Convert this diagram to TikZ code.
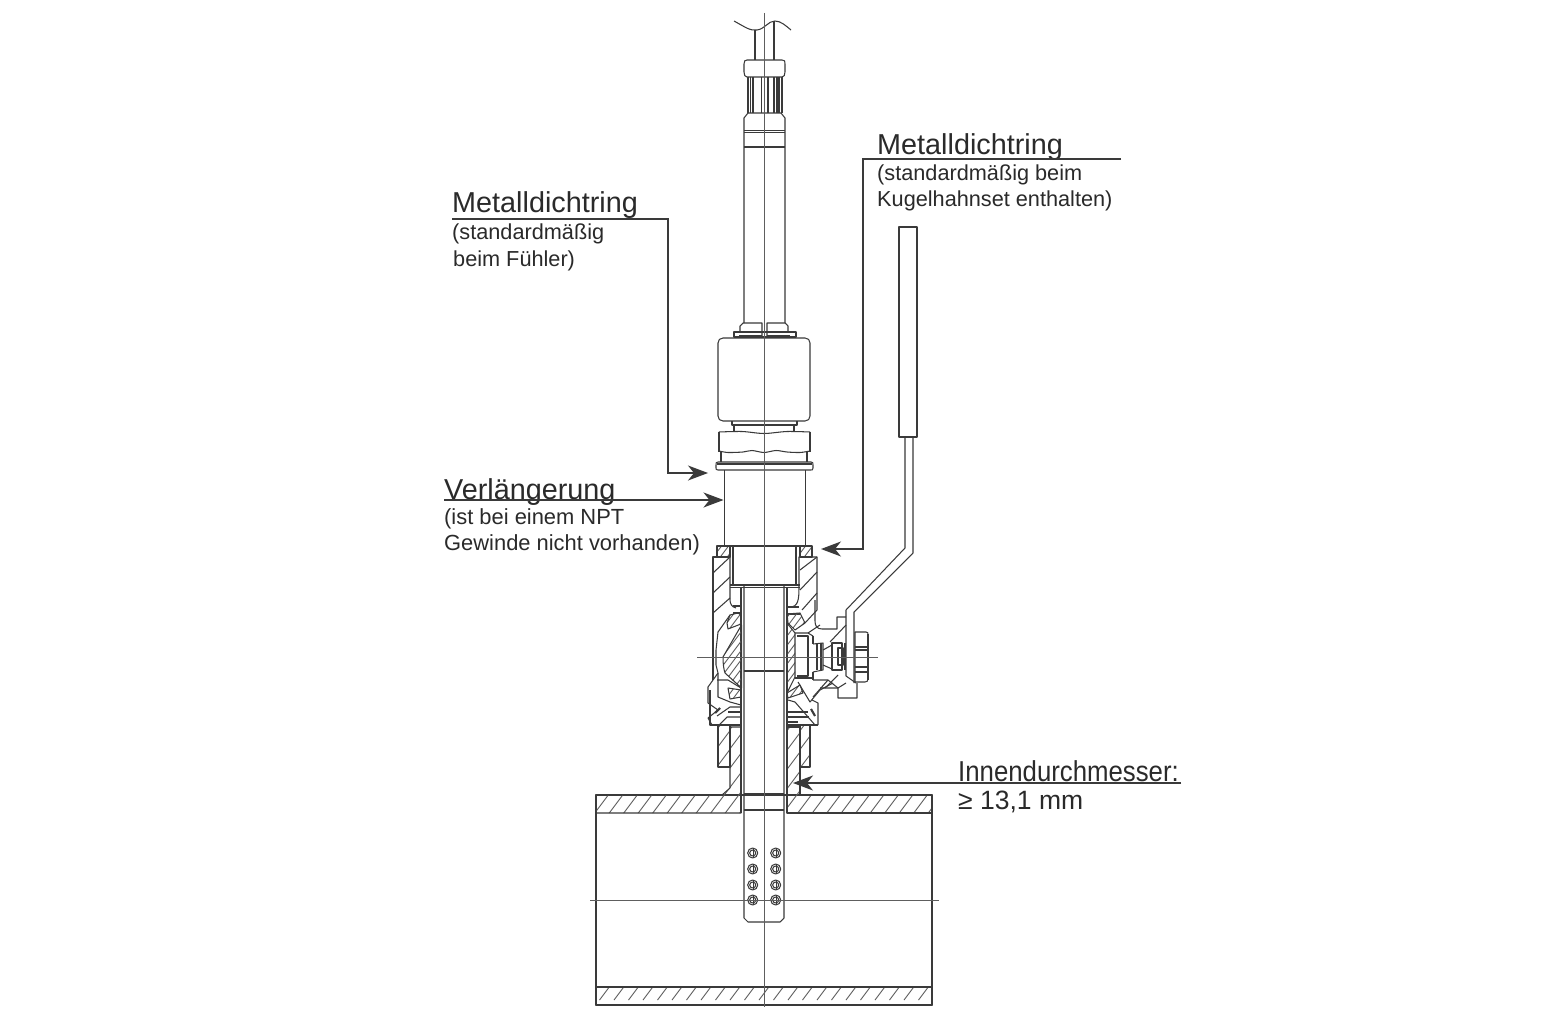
\documentclass[tikz,border=0pt]{standalone}
\usepackage{fontspec}
\setmainfont{Liberation Sans}
\usetikzlibrary{arrows.meta}
\definecolor{ink}{HTML}{3A3A3A}
\definecolor{txt}{HTML}{2A2A2A}
\definecolor{soft}{HTML}{5E5E5E}
\newcommand{\hatchin}[2][14.5]{%
  \begin{scope}\clip #2;
    \pgfmathsetmacro{\nxt}{900+#1}
    \foreach \k in {900,\nxt,...,1800} \draw[hl] (\k,0) -- (\k-750,1000);
  \end{scope}
  \draw[ln] #2;}
\tikzset{
  ln/.style={draw=ink,line width=1.05pt,line join=round},
  hl/.style={draw=soft,line width=.9pt},
  thick2/.style={draw=ink,line width=2.1pt},
  axis/.style={draw=soft,line width=1pt},
  big/.style={inner sep=0,anchor=base west,text=txt,font=\fontsize{28.8}{30}\selectfont},
  small/.style={inner sep=0,anchor=base west,text=txt,font=\fontsize{21.7}{24}\selectfont},
  leader/.style={draw=ink,line width=1.3pt,-{Stealth[length=20pt,width=15pt,inset=6pt]}}
}
\begin{document}
\begin{tikzpicture}[x=1pt,y=-1pt]
\useasboundingbox (0,0) rectangle (1560,1024);
\fill[white] (0,0) rectangle (1560,1024);

% ---- pipe and socket
\draw[ln] (596,795) rectangle (932,1005);
\hatchin{(596,795) -- (722,795) -- (730,788) -- (730,727) -- (741,727) -- (741,813) -- (596,813) -- cycle}
\hatchin{(787,727) -- (800,727) -- (800,795) -- (932,795) -- (932,813) -- (787,813) -- cycle}
\hatchin{(596,987) rectangle (932,1005)}
\draw[thick2] (730,728) -- (730,760);
\draw[thick2] (800,728) -- (800,762);

% ---- probe tip
\draw[ln] (744,585) -- (744,918) -- (748,922) -- (780,922) -- (784,918) -- (784,585);
\draw[ln] (744,671) -- (784,671);
\draw[ln] (744,794) -- (784,794);
\draw[thick2] (744,810) -- (784,810);
\foreach \y in {853,869,885,900} \foreach \x in {752.7,775.7} {
  \draw[ln] (\x,\y) circle (5);
  \draw[ln] (\x+.5,\y-5) -- (\x+.5,\y+5);
  \draw[ln] (\x,\y) circle (3);
}

% ---- sensor shaft
\draw[ln] (755,30) -- (755,60);
\draw[ln] (774,21) -- (774,60);
\draw[ln] (734,21) .. controls (745,27) and (750,31) .. (757,30) .. controls (765,29) and (768,21) .. (775,21) .. controls (781,21) and (786,26) .. (791,30);
\draw[ln] (747,60) -- (782,60) .. controls (785,60) and (785,61) .. (785,64) -- (785,72) .. controls (785,75) and (784,77) .. (782,77) -- (747,77) .. controls (745,77) and (744,75) .. (744,72) -- (744,64) .. controls (744,61) and (745,60) .. (747,60) -- cycle;
\foreach \x in {748,750.5,753,761.5,768,774,777,779,782} \draw[ln] (\x,77) -- (\x,113);
\draw[ln] (748,113) -- (781,113) -- (785,118) -- (785,323);
\draw[ln] (748,113) -- (744,118) -- (744,323);
\draw[ln] (744,130.5) -- (785,130.5);
\draw[ln] (744,132.5) -- (785,132.5);
\draw[ln] (744,147) -- (785,147);
\draw[ln] (740,332) -- (740,326) -- (743,323) -- (762,323) -- (762,336);
\draw[ln] (788,332) -- (788,326) -- (785,323) -- (767,323) -- (767,336);
\draw[ln] (734,332) rectangle (796,337);
\draw[thick2] (739,336.5) -- (762,336.5);
\draw[thick2] (767,336.5) -- (790,336.5);
% nut
\draw[ln] (723,338) -- (805,338) .. controls (808,338) and (810,340) .. (810,343) -- (810,416) .. controls (810,419) and (808,421) .. (805,421) -- (723,421) .. controls (720,421) and (718,419) .. (718,416) -- (718,343) .. controls (718,340) and (720,338) .. (723,338) -- cycle;
\draw[ln] (732,421) -- (732,425) -- (797,425) -- (797,421);
\draw[ln] (734,425) -- (734,432);
\draw[ln] (794,425) -- (794,432);
% hex
\draw[ln] (719,432) -- (719,452);
\draw[ln] (810,432) -- (810,452);
\draw[ln] plot[smooth] coordinates {(719,432) (742,431.5) (764,433.5) (787,431.5) (810,432)};
\draw[ln] plot[smooth] coordinates {(719,451) (728,452.5) (743,452) (752,450.5) (764,452.5) (776,450.5) (787,452) (800,452.5) (810,451)};
\draw[ln] (721,452) -- (721,462);
\draw[ln] (807,452) -- (807,462);
\draw[ln] (718,462) -- (811,462) .. controls (813,462) and (813,463) .. (813,465) -- (813,468) .. controls (813,470) and (812,470) .. (811,470) -- (718,470) .. controls (716,470) and (716,469) .. (716,468) -- (716,465) .. controls (716,463) and (716,462) .. (718,462) -- cycle;
\draw[ln] (717,464) -- (812,464);
% extension
\draw[ln] (724.5,470) -- (724.5,546);
\draw[ln] (805.5,470) -- (805.5,546);

% ---- upper valve body
\hatchin[7]{(717,546) -- (730,546) -- (730,557) -- (717,557) -- cycle}
\hatchin[7]{(800,546) -- (812,546) -- (812,557) -- (800,557) -- cycle}
\draw[ln] (730,546) -- (800,546);
\draw[ln] (733,546) -- (733,585);
\draw[ln] (796,546) -- (796,585);
\draw[ln] (730,557) -- (730,600) .. controls (730,604) and (732,607) .. (736,608);
\draw[ln] (713,680) -- (713,557) -- (730,557);
\draw[ln] (799,587) -- (799,557) -- (817,557) -- (817,610) -- (805,623);
\draw[ln] (713,573) -- (730,557);
\draw[ln] (713,593) -- (730,577);
\draw[ln] (713,613) -- (730,598);
\draw[ln] (718,632) -- (730,615);
\draw[ln] (800,570) -- (817,557);
\draw[ln] (800,590) -- (817,572);
\draw[ln] (802,610) -- (817,593);
\draw[ln] (730,585) -- (800,585);
\draw[ln] (730,587.5) -- (800,587.5);
\draw[ln] (799,587) .. controls (799,600) and (798,607) .. (790,607);
\draw[ln] (741,587) -- (741,813);
\draw[ln] (787,587) -- (787,813);
\draw[ln] (733,606) -- (741,606);
\draw[ln] (787,607) -- (799,607);
\draw[ln] (787,614) -- (800,614);
\draw[ln] (733,613) -- (741,613);

% ---- ball and seats, left
\hatchin[7]{(727,623) -- (730,615) -- (738,613) -- (741,615) -- (741,624) -- (728,629) -- cycle}
\hatchin[7]{(741.5,625) -- (723,657) .. controls (723,665) and (724,670) .. (725,673) -- (741.5,688) -- cycle}
\hatchin[7]{(728,688) -- (741,690) -- (741,697) -- (730,699) -- cycle}
\draw[ln] (718,632) -- (716,650) -- (716,665) -- (718,673) -- (708,687) -- (708,703) -- (718,710) -- (708,718) -- (712,725);
\draw[ln] (717,680) -- (728,680) -- (741,688);
\draw[ln] (718,673) -- (718,697) -- (730,702) -- (741,705);
\draw[thick2] (715,713) -- (720,708);
\draw[ln] (717,716) -- (730,707) -- (741,707);
\draw[ln] (719,725) -- (727,717) -- (741,717);
\draw[ln] (728,712) -- (741,712);

% ---- ball and seats, right
\hatchin[7]{(787,614) -- (800,613) -- (805,623) -- (795,630) -- (788,623) -- cycle}
\hatchin[7]{(787,623) -- (795,633) -- (795,677) -- (787,693) -- cycle}
\hatchin[7]{(787,693) -- (800,685) -- (803,693) -- (788,698) -- cycle}
\draw[ln] (795,633) -- (808,633) -- (813,636);
\draw[ln] (797,636) -- (808,636) -- (808,676) -- (797,676);
\draw[ln] (795,678) -- (813,678);
\draw[thick2] (813,636) -- (813,644);
\draw[thick2] (813,672) -- (813,680);
\draw[ln] (813,644) -- (823,643) -- (823,670) -- (813,672);
\draw[ln] (817,643) -- (817,670);
\draw[thick2] (821,643) -- (821,670);
\draw[ln] (823,650) -- (832,645);
\draw[ln] (823,665) -- (832,669);
\draw[ln] (832,643) -- (842,643) -- (842,670) -- (832,670) -- cycle;
\draw[ln] (838,648) -- (843,648) -- (843,665) -- (838,665) -- cycle;
\draw[thick2] (845,643) -- (845,670);
\draw[ln] (798,682) -- (810,702) -- (820,690) -- (833,683);
\draw[ln] (788,700) -- (795,702) -- (815,725);
\draw[ln] (812,700) -- (818,703) -- (818,725);
\draw[thick2] (811,709) -- (815,716);
\draw[ln] (787,712) -- (808,712);
\draw[ln] (787,717) -- (809,717);
\draw[ln] (787,722) -- (798,722);
\draw[ln] (710,690) -- (710,725) -- (741,725);
\draw[ln] (787,725) -- (818,725);

% ---- lugs
\draw[ln] (815,600) -- (815,621) .. controls (815,626) and (817,629) .. (822,629) -- (837,629) -- (837,617) -- (846,617);
\draw[ln] (830,642) -- (846,625);
\draw[ln] (808,633) -- (820,625);
\draw[ln] (813,680) -- (828,680) -- (838,688) -- (838,698) -- (857,698) -- (857,683);
\draw[ln] (813,697) -- (828,680);
\draw[ln] (820,688) -- (838,688) -- (846,683);
\draw[ln] (825,688) -- (838,675);

% ---- lever
\draw[ln] (899,227) rectangle (917,437);
\draw[ln] (905,437) -- (905,548) -- (846,610) -- (846,676) -- (856,683);
\draw[ln] (913,437) -- (913,553) -- (854,612) -- (854,683);
\draw[ln] (858,632) -- (866,632) .. controls (868,632) and (868,633) .. (868,635) -- (868,679) .. controls (868,681) and (867,682) .. (865,682) -- (855,682) -- (855,632) -- cycle;
\draw[ln] (855,647) -- (868,647);
\draw[ln] (855,650) -- (868,650);
\draw[ln] (855,667) -- (868,667);
\draw[ln] (855,672) -- (868,672);
\draw[thick2] (868,634) -- (868,680);

% ---- lower nut
\hatchin[14]{(718,725) -- (730,725) -- (730,767) -- (718,767) -- cycle}
\hatchin[14]{(800,725) -- (810,725) -- (810,767) -- (800,767) -- cycle}

% ---- axes
\draw[axis] (764.7,13) -- (764.7,1007);
\draw[axis] (590,900) -- (939,900);
\draw[axis] (697,657) -- (878,657);

% ---- labels
\node[big] (m1) at (452,213) {Metalldichtring};
\node[small] (m1a) at (452,240) {(standardmäßig};
\node[small] (m1b) at (453,266) {beim Fühler)};
\node[big] (v1) at (444,499) {Verlängerung};
\node[small,font=\fontsize{21.9}{24}\selectfont] (v1a) at (444,524) {(ist bei einem NPT};
\node[small,font=\fontsize{21.9}{24}\selectfont] (v1b) at (444,550) {Gewinde nicht vorhanden)};
\node[big] (m2) at (877,155) {Metalldichtring};
\node[small] (m2a) at (877,181) {(standardmäßig beim};
\node[small] (m2b) at (877,207) {Kugelhahnset enthalten)};
\node[big,xscale=.895,transform shape] (i1) at (958,781) {Innendurchmesser:};
\node[big,font=\fontsize{26.5}{30}\selectfont] (i2) at (958,809) {≥ 13,1 mm};

% ---- connectors
\coordinate (a1) at (452,219); \coordinate (a1t) at (708,473);
\coordinate (a2) at (444,500); \coordinate (a2t) at (723.5,500);
\coordinate (a3) at (1121,159); \coordinate (a3t) at (821,549);
\coordinate (a4) at (1181,783); \coordinate (a4t) at (793,783);
\draw[leader] (a1) -| (668,473) -- (a1t);
\draw[leader] (a2) -- (a2t);
\draw[leader] (a3) -| (863,549) -- (a3t);
\draw[leader] (a4) -- (a4t);
\end{tikzpicture}
\end{document}
